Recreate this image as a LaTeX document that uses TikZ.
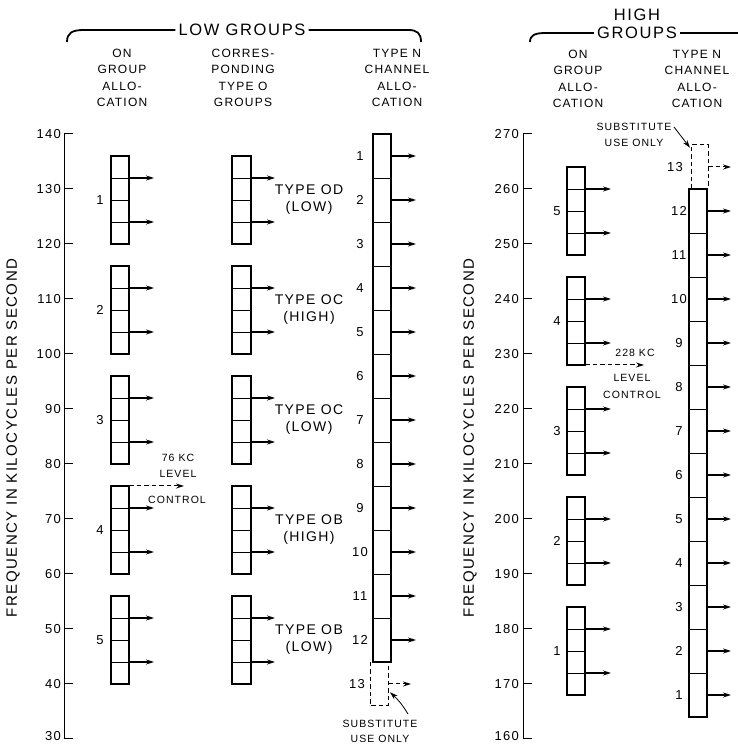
\documentclass[tikz,border=0pt]{standalone}
\usepackage{fontspec}
\setmainfont{Liberation Sans}[LetterSpace=10]
\usetikzlibrary{calc,positioning,arrows.meta}

\begin{document}
\begin{tikzpicture}[x=1pt, y=1pt, >={Stealth[length=8pt,width=5pt]},
  colhead/.style={align=center, inner sep=0pt, font=\fontsize{12}{16.5}\selectfont},
  grouptitle/.style={fill=white, inner sep=3pt, font=\fontsize{16.5}{18}\selectfont},
  num/.style={inner sep=0pt, font=\fontsize{13}{15}\selectfont},
  axislabel/.style={rotate=90, inner sep=0pt, font=\fontsize{15}{17}\selectfont},
  typelabel/.style={align=center, inner sep=0pt, font=\fontsize{14}{17}\selectfont},
  note/.style={align=center, inner sep=0pt, font=\fontsize{10.5}{16.5}\selectfont},
  bracket/.style={line width=1.8pt},
  grp/.style={line width=1.2pt},
  divline/.style={line width=0.7pt},
  feed/.style={->, line width=1.1pt},
  spare/.style={line width=1pt, dash pattern=on 4.5pt off 3pt}]

\useasboundingbox (0,0) rectangle (738,744);

% Headings, low groups
\node[grouptitle] (lowhead) at (242,714) {LOW GROUPS};
\draw[bracket] (67,702) .. controls (67,711) and (72,714) .. (84,714) -- (lowhead.west);
\draw[bracket] (lowhead.east) -- (408,714) .. controls (417,714) and (421,711) .. (421,702);
\node[colhead] (lowon) at (122,666) {ON\\GROUP\\ALLO-\\CATION};
\node[colhead] (lowo) at (243,666) {CORRES-\\PONDING\\TYPE O\\GROUPS};
\node[colhead] (lown) at (397,666) {TYPE N\\CHANNEL\\ALLO-\\CATION};

% Headings, high groups
\node[grouptitle] (highhead) at (637,711) {GROUPS};
\node[grouptitle, above=0pt of highhead] (hightop) {HIGH};
\draw[bracket] (530,702) .. controls (530,709) and (535,711) .. (546,711) -- (highhead.west);
\draw[bracket] (highhead.east) -- (738,711);
\node[colhead] (highon) at (578,665) {ON\\GROUP\\ALLO-\\CATION};
\node[colhead] (highn) at (697,665) {TYPE N\\CHANNEL\\ALLO-\\CATION};

% Axis titles
\node[axislabel] (lowaxis) at (13,306) {FREQUENCY IN KILOCYCLES PER SECOND};
\node[axislabel] (highaxis) at (470,306) {FREQUENCY IN KILOCYCLES PER SECOND};

% Low band, y in kc
\begin{scope}[y=5.5pt, yshift=-160pt]
  \draw[line width=1pt] (64,30) -- (64,140);
  \foreach \f in {30,40,...,140}
    \draw[line width=1pt] (64,\f) -- (73,\f);
  \foreach \f in {40,50,...,140}
    \node[num, anchor=east] at (61,\f) {\f};
  \node[num, anchor=east, yshift=3pt] (lowbottom) at (61,30) {30};

  % ON groups and type O groups
  \foreach \g/\b/\kind/\half in {1/120/OD/LOW, 2/100/OC/HIGH, 3/80/OC/LOW, 4/60/OB/HIGH, 5/40/OB/LOW} {
    \draw[grp] (111,\b) rectangle (129,\b+16);
    \draw[grp] (232,\b) rectangle (251,\b+16);
    \foreach \d in {4,8,12} {
      \draw[divline] (111,\b+\d) -- (129,\b+\d);
      \draw[divline] (232,\b+\d) -- (251,\b+\d);
    }
    \foreach \d in {4,12} {
      \draw[feed] (129,\b+\d) -- (154,\b+\d);
      \draw[feed] (251,\b+\d) -- (275,\b+\d);
    }
    \node[num] (lowg\g) at (100,\b+8) {\g};
    \node[typelabel] (lowtype\g) at (309,\b+8) {TYPE \kind\\(\half)};
  }

  % 76 kc level control
  \draw[spare, ->] (129,76) -- (184,76);
  \node[note] (kc76) at (178,79.7) {76 KC\\LEVEL};
  \node[note] (ctl76) at (177,73.5) {CONTROL};

  % Type N channels
  \draw[grp] (373,44) rectangle (391,140);
  \foreach \n in {1,...,11}
    \draw[divline] (373,140-8*\n) -- (391,140-8*\n);
  \foreach \n in {1,...,12} {
    \draw[feed] (391,144-8*\n) -- (416,144-8*\n);
    \node[num] (lowch\n) at (360,144-8*\n) {\n};
  }
  \draw[spare] (370,44) -- (370,36) -- (388,36) -- (388,44);
  \draw[spare, ->] (388,40) -- (411,40);
  \node[num] (lowch13) at (357,40) {13};
  \coordinate (lowspare) at (390,38.5);
\end{scope}

% High band, y in kc
\begin{scope}[y=5.5pt, yshift=-875pt]
  \draw[line width=1pt] (523,160) -- (523,270);
  \foreach \f in {160,170,...,270}
    \draw[line width=1pt] (523,\f) -- (532,\f);
  \foreach \f in {170,180,...,270}
    \node[num, anchor=east] at (519,\f) {\f};
  \node[num, anchor=east, yshift=3pt] (highbottom) at (519,160) {160};

  % ON groups
  \foreach \g/\b in {1/168, 2/188, 3/208, 4/228, 5/248} {
    \draw[grp] (567,\b) rectangle (585,\b+16);
    \foreach \d in {4,8,12}
      \draw[divline] (567,\b+\d) -- (585,\b+\d);
    \foreach \d in {4,12}
      \draw[feed] (585,\b+\d) -- (611,\b+\d);
    \node[num] (highg\g) at (557,\b+8) {\g};
  }

  % 228 kc level control
  \draw[spare, ->] (585,228) -- (644,228);
  \node[note] (kc228) at (635,230.2) {228 KC};
  \node[note] (ctl228) at (632,224.1) {LEVEL\\CONTROL};

  % Type N channels
  \draw[grp] (689,164) rectangle (707,260);
  \foreach \n in {1,...,11}
    \draw[divline] (689,164+8*\n) -- (707,164+8*\n);
  \foreach \n in {1,...,12} {
    \draw[feed] (707,160+8*\n) -- (731,160+8*\n);
    \node[num] (highch\n) at (679,160+8*\n) {\n};
  }
  \draw[spare] (691,260) -- (691,268) -- (708,268) -- (708,260);
  \draw[spare, ->] (708,264) -- (731,264);
  \node[num] (highch13) at (675,264) {13};
  \coordinate (highspare) at (690,267.5);
\end{scope}

% Substitute notes
\node[note, font=\fontsize{10.5}{14.5}\selectfont] (lowsub) at (380,12.5) {SUBSTITUTE\\USE ONLY};
\coordinate (lowsubfoot) at (408,30);
\draw[->, line width=0.8pt] (lowsubfoot) to[bend right=8] (lowspare);

\node[note, font=\fontsize{10.5}{15.5}\selectfont] (highsub) at (634,609) {SUBSTITUTE\\USE ONLY};
\coordinate (highsubfoot) at (674,617);
\draw[->, line width=0.8pt] (highsubfoot) -- (highspare);

\end{tikzpicture}
\end{document}
